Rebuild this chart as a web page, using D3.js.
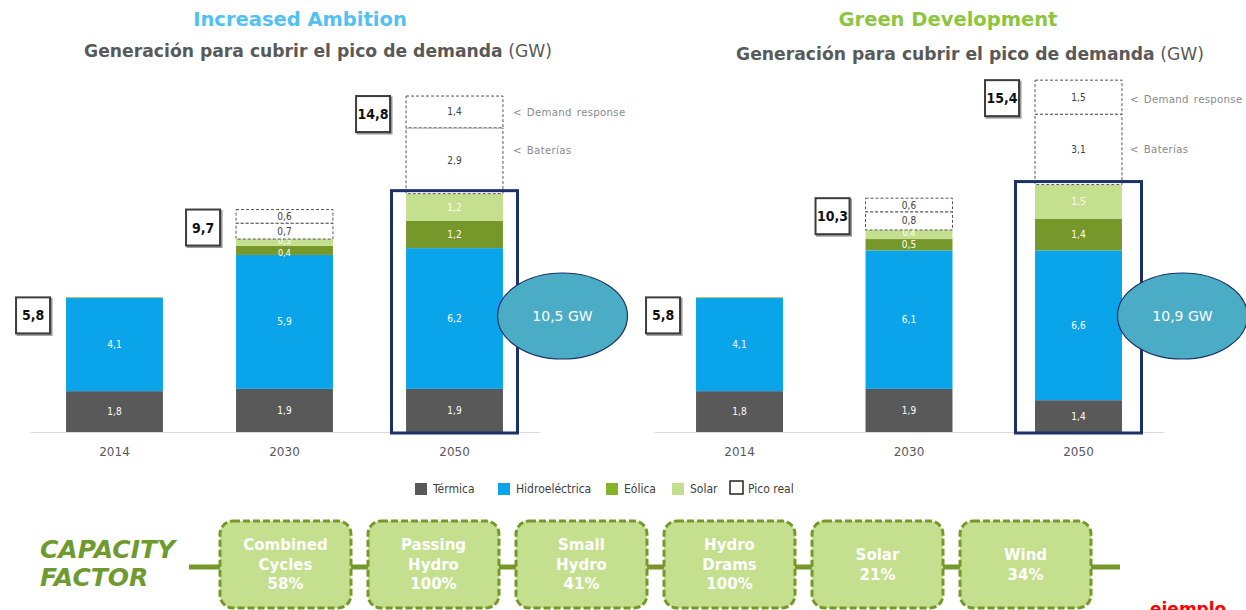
<!DOCTYPE html>
<html><head><meta charset="utf-8">
<script src="https://cdn.jsdelivr.net/npm/d3@7"></script>
<style>
body{margin:0;background:#fff;}
svg{display:block;font-family:"DejaVu Sans",Verdana,sans-serif;}
</style></head>
<body><svg id="c" width="1246" height="610"></svg>
<script>
// ---------- data ----------
const years = ["2014", "2030", "2050"];
const seriesKeys = ["termica", "hidro", "eolica", "solar", "baterias", "demand"];

// Increased Ambition (GW)
const iaTermica  = [1.8, 1.9, 1.9];
const iaHidro    = [4.1, 5.9, 6.2];
const iaEolica   = [0.03, 0.4, 1.2];
const iaSolar    = [0, 0.3, 1.2];
const iaBaterias = [0, 0.7, 2.9];
const iaDemand   = [0, 0.6, 1.4];
const iaTotals   = ["5,8", "9,7", "14,8"];
const iaEllipse  = "10,5 GW";

// Green Development (GW)
const gdTermica  = [1.8, 1.9, 1.4];
const gdHidro    = [4.1, 6.1, 6.6];
const gdEolica   = [0.03, 0.5, 1.4];
const gdSolar    = [0, 0.4, 1.5];
const gdBaterias = [0, 0.8, 3.1];
const gdDemand   = [0, 0.6, 1.5];
const gdTotals   = ["5,8", "10,3", "15,4"];
const gdEllipse  = "10,9 GW";

const legendLabels = ["Térmica", "Hidroeléctrica", "Eólica", "Solar", "Pico real"];

const cfNames  = [["Combined", "Cycles"], ["Passing", "Hydro"], ["Small", "Hydro"], ["Hydro", "Drams"], ["Solar"], ["Wind"]];
const cfValues = ["58%", "100%", "41%", "100%", "21%", "34%"];

// ---------- styles ----------
const colors = {termica:"#595959", hidro:"#0aa4ea", eolica:"#76982b", solar:"#c4e08e", baterias:"#ffffff", demand:"#ffffff"};
const navy = "#1b3168";
const fmt = v => d3.format(".1f")(v).replace(".", ",");

const svg = d3.select("#c");
const y = d3.scaleLinear().domain([0, 16]).range([432, 432 - 16 * 22.7]);

function drawChart(cfg) {
  const rows = years.map((yr, i) => ({
    year: yr, termica: cfg.t[i], hidro: cfg.h[i], eolica: cfg.e[i], solar: cfg.s[i],
    baterias: cfg.b[i], demand: cfg.d[i]
  }));
  const stacked = d3.stack().keys(seriesKeys)(rows);
  const x = d3.scaleBand().domain(years).range(cfg.range)
    .paddingInner(cfg.pi).paddingOuter(cfg.po);
  const g = svg.append("g");

  // titles
  g.append("text").attr("x", cfg.titleX).attr("y", 26).attr("text-anchor", "middle")
    .attr("font-size", 19.5).attr("font-weight", "bold").attr("fill", cfg.titleColor).text(cfg.title);
  const st = g.append("text").attr("x", cfg.subX).attr("y", cfg.subY).attr("text-anchor", "middle")
    .attr("font-size", 17.2).attr("fill", "#595959");
  st.append("tspan").attr("font-weight", "bold").text("Generación para cubrir el pico de demanda");
  st.append("tspan").text(" (GW)");

  // axis
  const ax = g.append("g").attr("transform", "translate(0,432)")
    .call(d3.axisBottom(x).tickSize(0).tickPadding(15).tickSizeOuter(0));
  ax.select(".domain").attr("stroke", "#d9d9d9").attr("stroke-width", 1.2);
  ax.selectAll("text").attr("font-size", 12).attr("fill", "#595959")
    .attr("font-family", "DejaVu Sans, Verdana, sans-serif");

  // bars
  stacked.forEach(layer => {
    const key = layer.key;
    const pico = key === "baterias" || key === "demand";
    layer.forEach(d => {
      const v = d[1] - d[0];
      if (v <= 0) return;
      const yr = d.data.year;
      g.append("rect").attr("x", x(yr)).attr("width", x.bandwidth())
        .attr("y", y(d[1])).attr("height", y(d[0]) - y(d[1]))
        .attr("fill", colors[key])
        .attr("stroke", pico ? "#555" : "none")
        .attr("stroke-width", pico ? 1 : 0)
        .attr("stroke-dasharray", pico ? "3,2" : null);
      if (v >= 0.1) {
        const h = y(d[0]) - y(d[1]);
        let ly = (y(d[0]) + y(d[1])) / 2;
        if (h < 11 && key === "eolica") ly += 2;
        if (h < 11 && key === "solar") ly -= 2;
        g.append("text").attr("x", x(yr) + x.bandwidth() / 2).attr("y", ly)
          .attr("dy", "0.35em").attr("text-anchor", "middle")
          .attr("font-size", h < 11 ? 9 : 10).attr("font-stretch", "condensed")
          .attr("fill", pico ? "#404040" : "#ffffff").text(fmt(v));
      }
    });
  });

  // total boxes
  rows.forEach((r, i) => {
    const tot = seriesKeys.reduce((a, k) => a + r[k], 0);
    const bx = x(r.year) - 16 - 34, by = y(tot);
    g.append("rect").attr("x", bx + 1.5).attr("y", by + 1.5).attr("width", 34).attr("height", 36)
      .attr("fill", "none").attr("stroke", "#9a9a9a").attr("stroke-width", 2);
    g.append("rect").attr("x", bx).attr("y", by).attr("width", 34).attr("height", 36)
      .attr("fill", "#fff").attr("stroke", "#3d3d3d").attr("stroke-width", 2);
    g.append("text").attr("x", bx + 17).attr("y", by + 18).attr("dy", "0.36em")
      .attr("text-anchor", "middle").attr("font-size", 14).attr("font-weight", "bold")
      .attr("font-stretch", "condensed").attr("fill", "#111").text(cfg.totals[i]);
  });

  // 2050 highlight
  const last = rows[2];
  const gen = last.termica + last.hidro + last.eolica + last.solar;
  const c50 = x("2050") + x.bandwidth() / 2;
  g.append("rect").attr("x", c50 - 63).attr("y", y(gen) - 3).attr("width", 126)
    .attr("height", y(0) - y(gen) + 4).attr("fill", "none").attr("stroke", navy).attr("stroke-width", 3);

  // annotations
  const ann = [["demand", "< Demand response"], ["baterias", "< Baterías"]];
  ann.forEach(([k, t]) => {
    const layer = stacked.find(l => l.key === k)[2];
    const yy = k === "demand" ? y(layer[0]) - 15 : y(layer[1]) + cfg.batDy;
    g.append("text").attr("x", x("2050") + x.bandwidth() + cfg.annDx).attr("y", yy).attr("dy", "0.35em")
      .attr("font-size", 10.2).attr("letter-spacing", 0.3).attr("word-spacing", 1.5).attr("fill", "#8a8a8a")
      .text(t);
  });

  // ellipse
  g.append("ellipse").attr("cx", c50 + cfg.ellDx).attr("cy", 316).attr("rx", 65).attr("ry", 43)
    .attr("fill", "#4bacc6").attr("stroke", navy).attr("stroke-width", 1.2);
  g.append("text").attr("x", c50 + cfg.ellDx).attr("y", 316).attr("dy", "0.36em").attr("text-anchor", "middle")
    .attr("font-size", 14).attr("fill", "#fff").text(cfg.ellipse);
}

drawChart({t: iaTermica, h: iaHidro, e: iaEolica, s: iaSolar, b: iaBaterias, d: iaDemand,
  totals: iaTotals, ellipse: iaEllipse, range: [30, 539], pi: 0.43, po: 0.212, batDy: 23, annDx: 10,
  title: "Increased Ambition", titleColor: "#52c1ef", titleX: 300, subX: 318, subY: 57, ellDx: 108});
drawChart({t: gdTermica, h: gdHidro, e: gdEolica, s: gdSolar, b: gdBaterias, d: gdDemand,
  totals: gdTotals, ellipse: gdEllipse, range: [654, 1164], pi: 0.487, po: 0.248, batDy: 35, annDx: 8,
  title: "Green Development", titleColor: "#8cc63f", titleX: 948, subX: 970, subY: 60, ellDx: 104});

// ---------- legend ----------
const legColors = [colors.termica, colors.hidro, "#84b42a", colors.solar, "#fff"];
const legX = [415, 498, 606, 672, 730];
const lg = svg.append("g");
legendLabels.forEach((t, i) => {
  const last = i === 4;
  lg.append("rect").attr("x", legX[i]).attr("y", last ? 481 : 483).attr("width", last ? 13 : 12)
    .attr("height", last ? 13 : 12).attr("fill", legColors[i])
    .attr("stroke", last ? "#222" : "none").attr("stroke-width", 1.5);
  lg.append("text").attr("x", legX[i] + 18).attr("y", 489).attr("dy", "0.35em")
    .attr("font-size", 12).attr("font-stretch", "condensed").attr("fill", "#404040").text(t);
});

// ---------- capacity factor ----------
const cfGreen = "#6e9a2e";
const cf = svg.append("g");
cf.append("text").attr("x", 40).attr("y", 558).attr("font-size", 25).attr("font-weight", "bold")
  .attr("font-style", "italic").attr("fill", cfGreen).text("CAPACITY");
cf.append("text").attr("x", 40).attr("y", 586).attr("font-size", 25).attr("font-weight", "bold")
  .attr("font-style", "italic").attr("fill", cfGreen).text("FACTOR");
cf.append("line").attr("x1", 189).attr("x2", 1120).attr("y1", 567).attr("y2", 567)
  .attr("stroke", "#76982b").attr("stroke-width", 5);
const bxs = d3.scaleBand().domain(cfValues.map((v, i) => i)).range([220, 1091]).paddingInner(0.115);
cfValues.forEach((v, i) => {
  const bx = bxs(i), w = bxs.bandwidth();
  cf.append("rect").attr("x", bx).attr("y", 521).attr("width", w).attr("height", 87).attr("rx", 13)
    .attr("fill", "#c4e08e").attr("stroke", "#76982b").attr("stroke-width", 3).attr("stroke-dasharray", "7,3");
  const lines = cfNames[i].concat([v]);
  const lh = 19.5, cy = 564.5 - (lines.length - 1) * lh / 2;
  lines.forEach((t, j) => {
    cf.append("text").attr("x", bx + w / 2).attr("y", cy + j * lh).attr("dy", "0.35em")
      .attr("text-anchor", "middle").attr("font-size", 15).attr("font-weight", "bold")
      .attr("fill", "#fff").text(t);
  });
});

svg.append("text").attr("x", 1150).attr("y", 615).attr("font-size", 17).attr("font-weight", "bold")
  .attr("fill", "#ff0000").text("ejemplo");
</script>
</body></html>
